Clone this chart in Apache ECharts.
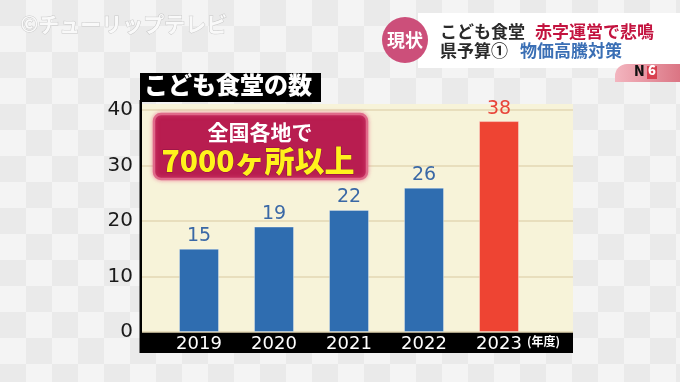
<!DOCTYPE html>
<html><head><meta charset="utf-8">
<script src="https://cdn.jsdelivr.net/npm/echarts@6/dist/echarts.min.js"></script>
<style>html,body{margin:0;padding:0;background:#efefef}#c{width:680px;height:382px}</style>
</head><body><div id="c"></div>
<script>
const categories = ['2019', '2020', '2021', '2022', '2023'];
const values = [15, 19, 22, 26, 38];
const barColors = ['#2f6db0', '#2f6db0', '#2f6db0', '#2f6db0', '#ee4433'];
const labelColors = ['#3a68a6', '#3a68a6', '#3a68a6', '#3a68a6', '#e8453a'];
const yMin = 0, yMax = 40, yStep = 10;

// checkerboard background pattern
const pc = document.createElement('canvas');
pc.width = 52; pc.height = 52;
const g = pc.getContext('2d');
g.fillStyle = '#f4f4f4'; g.fillRect(0, 0, 52, 52);
g.fillStyle = '#eaeaea'; g.fillRect(0, 0, 26, 26); g.fillRect(26, 26, 26, 26);

const FONT = '"Noto Sans CJK JP", "Noto Sans", sans-serif';
const NUM = '"DejaVu Sans", sans-serif';
const chart = echarts.init(document.getElementById('c'), null, {renderer: 'canvas'});
const option = {
  backgroundColor: {image: pc, repeat: 'repeat'},
  animation: false,
  grid: [
    {left: 141, right: 107, top: 110, bottom: 50},
    {left: 161.5, right: 143.5, top: 110, bottom: 50}
  ],
  xAxis: [
    {gridIndex: 0, type: 'category', data: categories, show: false},
    {gridIndex: 1, type: 'category', data: categories,
     axisLine: {show: false}, axisTick: {show: false},
     axisLabel: {color: '#ffffff', fontSize: 18, fontFamily: NUM, margin: 3}}
  ],
  yAxis: [
    {gridIndex: 0, type: 'value', min: yMin, max: yMax, interval: yStep,
     axisLine: {show: false}, axisTick: {show: false},
     axisLabel: {color: '#1a1a1a', fontSize: 20, fontFamily: NUM, margin: 8},
     splitLine: {lineStyle: {color: '#e3d7b3', width: 1.5}}},
    {gridIndex: 1, type: 'value', min: yMin, max: yMax, interval: yStep, show: false}
  ],
  series: [{
    type: 'bar', xAxisIndex: 1, yAxisIndex: 1, barWidth: 40,
    data: values.map((v, i) => ({
      value: v,
      itemStyle: {color: barColors[i], borderColor: 'rgba(255,255,255,0.35)', borderWidth: 1},
      label: {color: labelColors[i]}
    })),
    label: {show: true, position: 'top', distance: 3, fontSize: 19, fontFamily: NUM}
  }],
  graphic: [
    {type: 'rect', z: -10, shape: {x: 141, y: 104, width: 432, height: 228}, style: {fill: '#f7f3d9'}},
    {type: 'rect', z: -5, shape: {x: 141, y: 332, width: 432, height: 21}, style: {fill: '#000000'}},
    {type: 'rect', z: 5, shape: {x: 139.5, y: 100, width: 2.5, height: 253}, style: {fill: '#000000'}},
    {type: 'text', z: 10, left: 527, top: 335, style: {text: '(年度)', fill: '#ffffff', font: 'bold 12px ' + FONT}},
    {type: 'rect', z: 5, shape: {x: 140, y: 73, width: 181, height: 29}, style: {fill: '#000000'}},
    {type: 'text', z: 10, left: 144, top: 73, style: {text: 'こども食堂の数', fill: '#ffffff', font: '900 24px ' + FONT}},
    {type: 'rect', z: 10, shape: {x: 154, y: 114, width: 213, height: 65, r: 7},
     style: {fill: '#b81d50', stroke: '#e06a8a', lineWidth: 2.5, shadowBlur: 4, shadowColor: 'rgba(230,90,130,0.6)'}},
    {type: 'text', z: 11, x: 260, y: 132, style: {text: '全国各地で', fill: '#ffffff', font: 'bold 21px ' + FONT, textAlign: 'center', textVerticalAlign: 'middle'}},
    {type: 'text', z: 11, x: 258, y: 161, style: {text: '7000ヶ所以上', fill: '#fff21c', font: '900 30px ' + FONT, textAlign: 'center', textVerticalAlign: 'middle', stroke: '#8a1040', lineWidth: 1}},
    {type: 'rect', z: 5, shape: {x: 418, y: 13, width: 262, height: 55}, style: {fill: '#ffffff'}},
    {type: 'circle', z: 6, shape: {cx: 405, cy: 40, r: 23}, style: {fill: '#cc4f7a'}},
    {type: 'text', z: 7, x: 405, y: 40, style: {text: '現状', fill: '#ffffff', font: 'bold 18px ' + FONT, textAlign: 'center', textVerticalAlign: 'middle'}},
    {type: 'text', z: 7, x: 440, y: 32, style: {text: 'こども食堂', fill: '#2a2a2a', font: 'bold 17px ' + FONT, textVerticalAlign: 'middle'}},
    {type: 'text', z: 7, x: 535, y: 32, style: {text: '赤字運営で悲鳴', fill: '#c3133f', font: 'bold 17px ' + FONT, textVerticalAlign: 'middle'}},
    {type: 'text', z: 7, x: 440, y: 51, style: {text: '県予算①', fill: '#2a2a2a', font: 'bold 17px ' + FONT, textVerticalAlign: 'middle'}},
    {type: 'text', z: 7, x: 520, y: 51, style: {text: '物価高騰対策', fill: '#3a6fb5', font: 'bold 17px ' + FONT, textVerticalAlign: 'middle'}},
    {type: 'rect', z: 5, shape: {x: 615, y: 64, width: 70, height: 18, r: [12, 0, 0, 0]},
     style: {fill: new echarts.graphic.LinearGradient(0, 0, 1, 0, [{offset: 0, color: '#f3b5bf'}, {offset: 1, color: '#d9707f'}])}},
    {type: 'text', z: 7, left: 634, top: 64, style: {text: 'N', fill: '#111', font: '900 14px ' + FONT}},
    {type: 'rect', z: 6, shape: {x: 647, y: 66, width: 10, height: 13}, style: {fill: '#d8404f'}},
    {type: 'text', z: 7, left: 648, top: 64, style: {text: '6', fill: '#fff', font: '900 13px ' + FONT}},
    {type: 'text', z: 3, left: 20, top: 13, style: {text: '©チューリップテレビ', fill: '#f9f9f9', stroke: '#c8c8c8', lineWidth: 1, font: 'bold 21px ' + FONT}}
  ]
};
chart.setOption(option);
</script></body></html>
